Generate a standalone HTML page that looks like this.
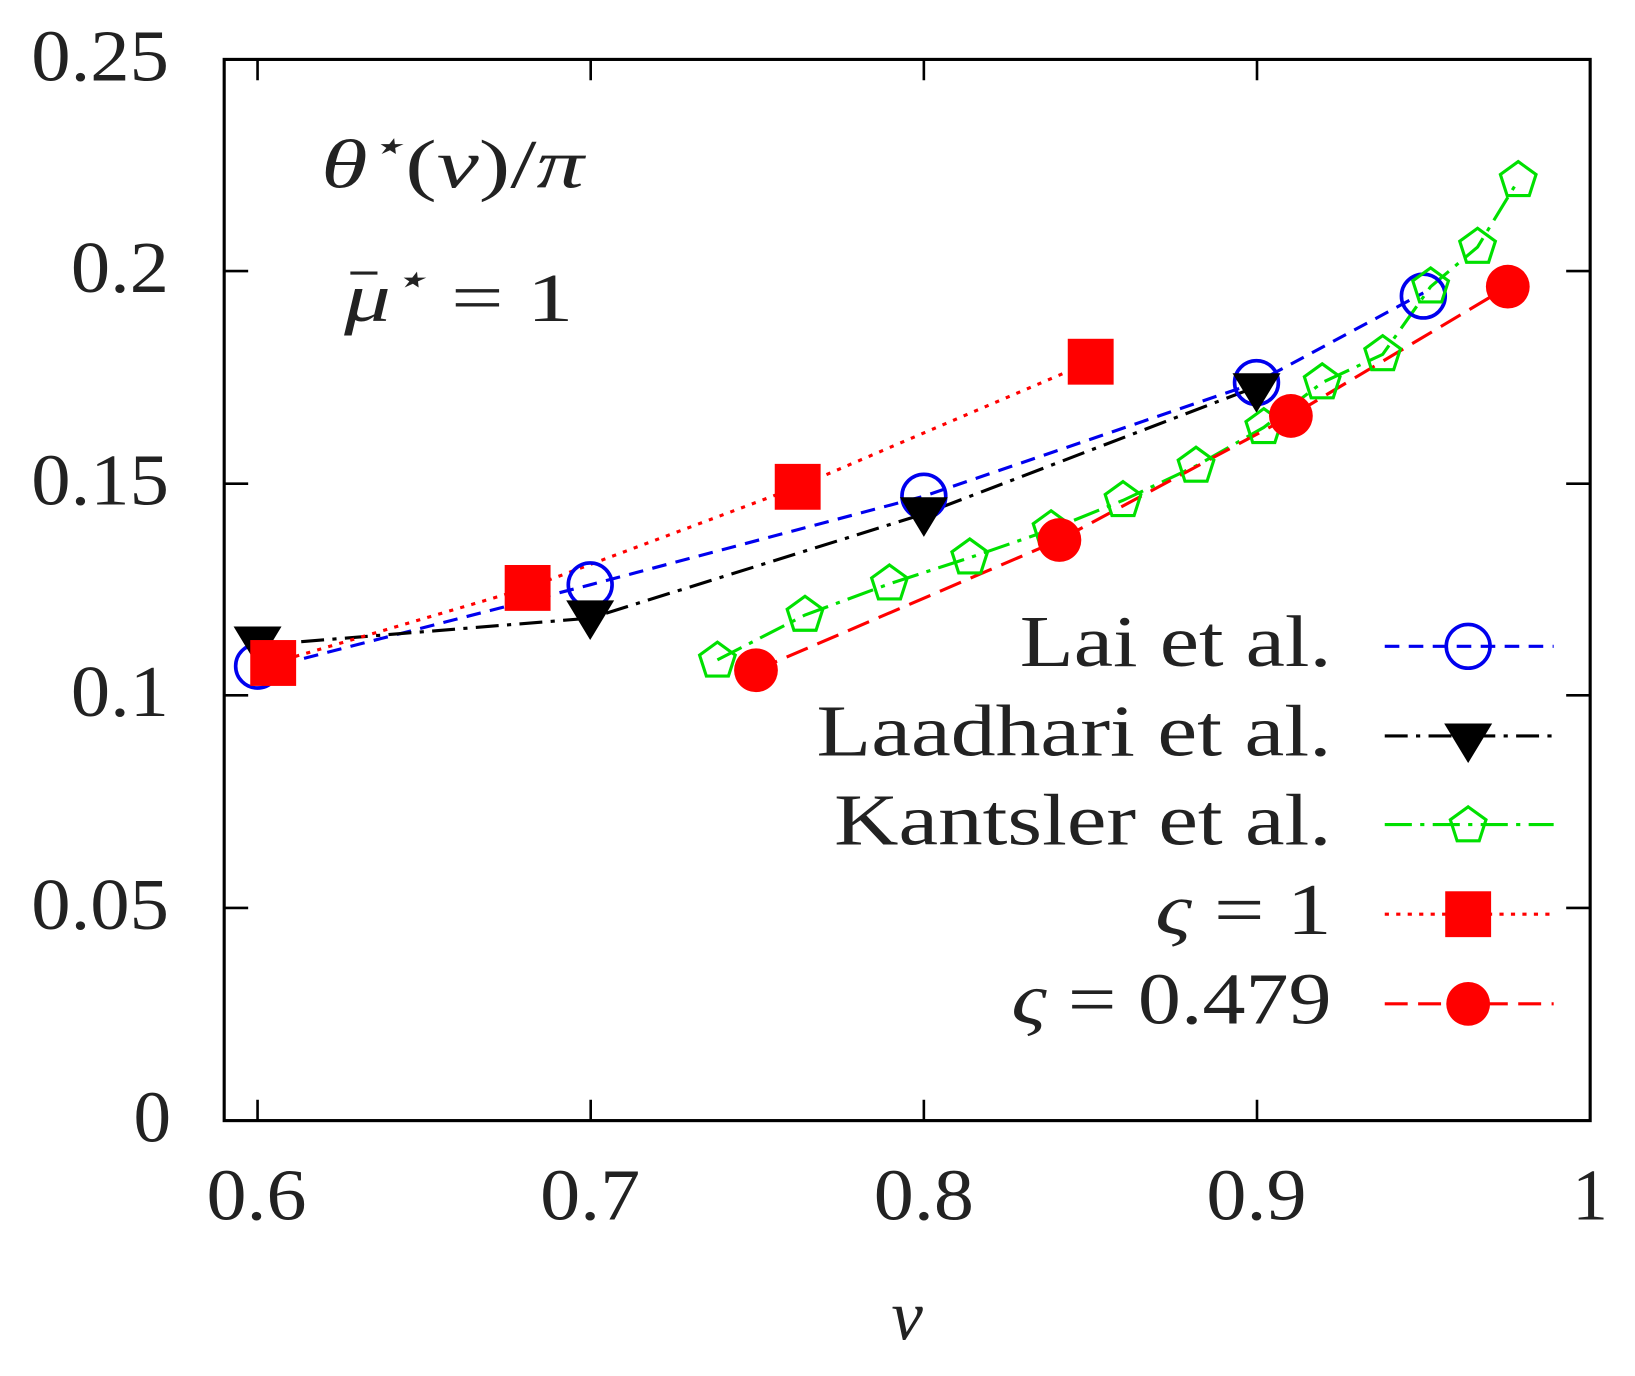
<!DOCTYPE html>
<html><head><meta charset="utf-8"><style>html,body{margin:0;padding:0;background:#fff}svg{display:block}</style></head><body>
<svg width="1635" height="1376" viewBox="0 0 1568 1320" preserveAspectRatio="none" xmlns="http://www.w3.org/2000/svg" font-family="Liberation Serif, serif" fill="#222">
<defs>
<g id="pent"><polygon points="0,-18 17.1,-5.6 10.6,14.6 -10.6,14.6 -17.1,-5.6" fill="none" stroke="#00e000" stroke-width="3"/></g>
<g id="ocirc"><circle r="21" fill="none" stroke="#0000ee" stroke-width="3.5"/></g>
<g id="tri"><polygon points="-23,-16 23,-16 0,22" fill="#000"/></g>
<g id="sq"><rect x="-22" y="-22" width="44" height="44" fill="#f00"/></g>
<g id="dot"><circle r="21" fill="#f00"/></g>
</defs>
<rect x="215" y="57" width="1310" height="1018" fill="none" stroke="#000" stroke-width="3"/>
<g stroke="#000" stroke-width="2.5">
<line x1="247" y1="1075" x2="247" y2="1055"/><line x1="247" y1="57" x2="247" y2="77"/>
<line x1="566.5" y1="1075" x2="566.5" y2="1055"/><line x1="566.5" y1="57" x2="566.5" y2="77"/>
<line x1="886" y1="1075" x2="886" y2="1055"/><line x1="886" y1="57" x2="886" y2="77"/>
<line x1="1205.5" y1="1075" x2="1205.5" y2="1055"/><line x1="1205.5" y1="57" x2="1205.5" y2="77"/>
<line x1="215" y1="871" x2="238" y2="871"/><line x1="1525" y1="871" x2="1502" y2="871"/>
<line x1="215" y1="667" x2="238" y2="667"/><line x1="1525" y1="667" x2="1502" y2="667"/>
<line x1="215" y1="464" x2="238" y2="464"/><line x1="1525" y1="464" x2="1502" y2="464"/>
<line x1="215" y1="260" x2="238" y2="260"/><line x1="1525" y1="260" x2="1502" y2="260"/>
</g>
<g font-size="70" lengthAdjust="spacingAndGlyphs">
<text x="128" y="1095" textLength="36" lengthAdjust="spacingAndGlyphs">0</text>
<text x="30" y="891" textLength="132" lengthAdjust="spacingAndGlyphs">0.05</text>
<text x="68" y="687" textLength="94" lengthAdjust="spacingAndGlyphs">0.1</text>
<text x="30" y="484" textLength="132" lengthAdjust="spacingAndGlyphs">0.15</text>
<text x="68" y="280" textLength="94" lengthAdjust="spacingAndGlyphs">0.2</text>
<text x="30" y="77" textLength="132" lengthAdjust="spacingAndGlyphs">0.25</text>
<text x="198" y="1170" textLength="96" lengthAdjust="spacingAndGlyphs">0.6</text>
<text x="518" y="1170" textLength="96" lengthAdjust="spacingAndGlyphs">0.7</text>
<text x="838" y="1170" textLength="96" lengthAdjust="spacingAndGlyphs">0.8</text>
<text x="1157" y="1170" textLength="96" lengthAdjust="spacingAndGlyphs">0.9</text>
<text x="1508" y="1170" textLength="34" lengthAdjust="spacingAndGlyphs">1</text>
</g>
<text x="870" y="1285" font-size="68" font-style="italic" text-anchor="middle">v</text>
<text x="308" y="180" font-size="66" font-style="italic" textLength="252" lengthAdjust="spacingAndGlyphs">θ<tspan font-size="42" dy="-26">⋆</tspan><tspan dy="26" font-style="normal">(</tspan>v<tspan font-style="normal">)/</tspan>π</text>
<line x1="336" y1="262" x2="362" y2="262" stroke="#222" stroke-width="3"/>
<text x="330" y="308" font-size="66" font-style="italic" textLength="220" lengthAdjust="spacingAndGlyphs">μ<tspan font-size="42" dy="-26">⋆</tspan><tspan dy="26" font-style="normal"> = 1</tspan></text>
<!-- series lines -->
<polyline points="247,643 566,561 886,476 1205,367 1365,281" fill="none" stroke="#0000ee" stroke-width="3" stroke-dasharray="14,9"/>
<polyline points="247,619 566,593 886,493 1205,371" fill="none" stroke="#000" stroke-width="3" stroke-dasharray="22,8,4,8"/>
<polyline points="688,633 772,590 853,560 930,535 1008,508 1077,480 1147,447 1212,410 1268,367 1326,340 1372,275 1417,237 1456,173" fill="none" stroke="#00e000" stroke-width="3" stroke-dasharray="26,8,4,8"/>
<polyline points="262,636 506,564 765,467 1046,347" fill="none" stroke="#f00" stroke-width="3" stroke-dasharray="4,7"/>
<polyline points="725,643 1016,518 1238,399 1446,275" fill="none" stroke="#f00" stroke-width="3" stroke-dasharray="22,10"/>
<!-- markers -->
<use href="#ocirc" x="247" y="639"/><use href="#ocirc" x="566" y="561"/><use href="#ocirc" x="886" y="476"/><use href="#ocirc" x="1205" y="367"/><use href="#ocirc" x="1365" y="284"/>
<use href="#tri" x="247" y="617"/><use href="#tri" x="566" y="592"/><use href="#tri" x="886" y="493"/><use href="#tri" x="1205" y="374"/>
<use href="#pent" x="688" y="634"/><use href="#pent" x="772" y="590"/><use href="#pent" x="853" y="560"/><use href="#pent" x="930" y="535"/><use href="#pent" x="1008" y="508"/><use href="#pent" x="1077" y="480"/><use href="#pent" x="1147" y="447"/><use href="#pent" x="1212" y="410"/><use href="#pent" x="1268" y="367"/><use href="#pent" x="1326" y="340"/><use href="#pent" x="1372" y="275"/><use href="#pent" x="1417" y="237"/><use href="#pent" x="1456" y="173"/>
<use href="#sq" x="262" y="636"/><use href="#sq" x="506" y="564"/><use href="#sq" x="765" y="467"/><use href="#sq" x="1046" y="347"/>
<use href="#dot" x="725" y="643"/><use href="#dot" x="1016" y="518"/><use href="#dot" x="1238" y="399"/><use href="#dot" x="1446" y="275"/>
<!-- legend -->
<g font-size="70">
<text x="978" y="639" textLength="299" lengthAdjust="spacingAndGlyphs">Lai et al.</text>
<text x="783" y="725" textLength="494" lengthAdjust="spacingAndGlyphs">Laadhari et al.</text>
<text x="800" y="810" textLength="477" lengthAdjust="spacingAndGlyphs">Kantsler et al.</text>
<text x="1108" y="896" textLength="169" lengthAdjust="spacingAndGlyphs"><tspan font-style="italic">ς</tspan> = 1</text>
<text x="970" y="982" textLength="307" lengthAdjust="spacingAndGlyphs"><tspan font-style="italic">ς</tspan> = 0.479</text>
</g>
<line x1="1328" y1="620" x2="1490" y2="620" stroke="#0000ee" stroke-width="3" stroke-dasharray="14,9"/>
<line x1="1328" y1="706" x2="1490" y2="706" stroke="#000" stroke-width="3" stroke-dasharray="22,8,4,8"/>
<line x1="1328" y1="791" x2="1490" y2="791" stroke="#00e000" stroke-width="3" stroke-dasharray="26,8,4,8"/>
<line x1="1328" y1="877" x2="1490" y2="877" stroke="#f00" stroke-width="3" stroke-dasharray="4,7"/>
<line x1="1328" y1="963" x2="1490" y2="963" stroke="#f00" stroke-width="3" stroke-dasharray="22,10"/>
<use href="#ocirc" x="1408" y="620"/><use href="#tri" x="1408" y="710"/><use href="#pent" x="1408" y="792"/><use href="#sq" x="1408" y="877"/><use href="#dot" x="1408" y="963"/>
</svg>
</body></html>
